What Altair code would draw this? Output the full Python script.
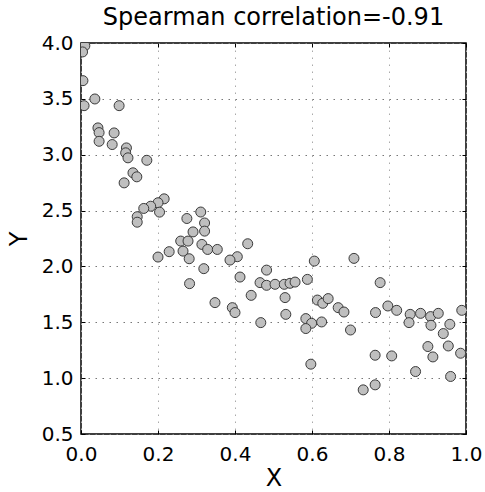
import altair as alt
import pandas as pd

x_vals = [0.010, 0.004, 0.005, 0.036, 0.008, 0.099, 0.044, 0.047, 0.047, 0.086,
          0.081, 0.118, 0.116, 0.122, 0.171, 0.135, 0.145, 0.112, 0.216, 0.200,
          0.181, 0.163, 0.204, 0.146, 0.146, 0.275, 0.311, 0.321, 0.291, 0.321,
          0.259, 0.278, 0.314, 0.329, 0.229, 0.265, 0.200, 0.281, 0.319, 0.282,
          0.354, 0.433, 0.406, 0.387, 0.482, 0.413, 0.606, 0.465, 0.482, 0.504,
          0.528, 0.543, 0.556, 0.588, 0.530, 0.442, 0.348, 0.393, 0.400, 0.532,
          0.467, 0.614, 0.628, 0.642, 0.668, 0.584, 0.599, 0.625, 0.584, 0.597,
          0.709, 0.777, 0.683, 0.700, 0.765, 0.797, 0.820, 0.855, 0.852, 0.882,
          0.908, 0.928, 0.909, 0.958, 0.941, 0.989, 0.901, 0.954, 0.914, 0.986,
          0.764, 0.807, 0.869, 0.960, 0.764, 0.733]
y_vals = [3.975, 3.920, 3.663, 3.499, 3.439, 3.439, 3.240, 3.198, 3.120, 3.195,
          3.091, 3.061, 3.017, 2.972, 2.950, 2.838, 2.802, 2.748, 2.605, 2.570,
          2.539, 2.519, 2.486, 2.445, 2.396, 2.429, 2.487, 2.389, 2.309, 2.316,
          2.227, 2.227, 2.197, 2.152, 2.132, 2.137, 2.084, 2.069, 1.980, 1.846,
          2.152, 2.203, 2.087, 2.057, 1.967, 1.905, 2.048, 1.855, 1.831, 1.840,
          1.840, 1.849, 1.860, 1.884, 1.721, 1.741, 1.676, 1.631, 1.587, 1.571,
          1.497, 1.699, 1.670, 1.712, 1.631, 1.533, 1.491, 1.503, 1.444, 1.125,
          2.072, 1.855, 1.592, 1.431, 1.587, 1.646, 1.607, 1.571, 1.497, 1.580,
          1.551, 1.580, 1.473, 1.482, 1.399, 1.607, 1.283, 1.288, 1.190, 1.223,
          1.205, 1.199, 1.059, 1.015, 0.940, 0.895]

x_ticks = [0.0, 0.2, 0.4, 0.6, 0.8, 1.0]
y_ticks = [0.5, 1.0, 1.5, 2.0, 2.5, 3.0, 3.5, 4.0]
title_text = "Spearman correlation=-0.91"

df = pd.DataFrame({"X": x_vals, "Y": y_vals})

FONT = "DejaVu Sans"
xscale = alt.Scale(domain=[0, 1], nice=False, zero=False)
yscale = alt.Scale(domain=[0.5, 4.0], nice=False, zero=False)

points = alt.Chart(df).mark_circle(
    size=100, color="#bfbfbf", opacity=1, stroke="#3a3a3a", strokeWidth=1, clip=True
).encode(
    x=alt.X("X:Q", scale=xscale,
            axis=alt.Axis(values=x_ticks, format=".1f", title="X",
                          offset=-4, tickSize=4, tickColor="black", tickWidth=1,
                          labelPadding=10, titlePadding=2, labelFlush=False,
                          gridDash=[1.5, 5.5], gridColor="#aaaaaa", gridWidth=1)),
    y=alt.Y("Y:Q", scale=yscale,
            axis=alt.Axis(values=y_ticks, format=".1f", title="Y",
                          offset=-4, tickSize=4, tickColor="black", tickWidth=1,
                          labelPadding=8, titlePadding=10, labelFlush=False,
                          gridDash=[1.5, 5.5], gridColor="#777777", gridWidth=1)),
)

# Mirror ticks on top and right edges (matplotlib classic style)
mirror = alt.Chart(df).mark_point(opacity=0).encode(
    x=alt.X("X:Q", scale=xscale,
            axis=alt.Axis(orient="top", values=x_ticks, labels=False, title=None,
                          offset=-4, tickSize=4, tickColor="black", tickWidth=1,
                          grid=False)),
    y=alt.Y("Y:Q", scale=yscale,
            axis=alt.Axis(orient="right", values=y_ticks, labels=False, title=None,
                          offset=-4, tickSize=4, tickColor="black", tickWidth=1,
                          grid=False)),
)

chart = alt.layer(points, mirror).resolve_scale(
    x="independent", y="independent"
).properties(
    width=385,
    height=391,
    autosize="none",
    background="white",
    padding={"left": 81, "top": 43, "right": 19, "bottom": 58},
    title=alt.TitleParams(title_text, font=FONT, fontSize=24, fontWeight="normal",
                          color="black", anchor="middle", offset=3),
).configure_axis(
    domain=False,
    labelFont=FONT, labelFontSize=20, labelColor="black",
    titleFont=FONT, titleFontSize=24, titleFontWeight="normal", titleColor="black",
).configure_view(
    stroke="black", strokeWidth=1.5
)

chart.save("out.html", embed_options={"renderer": "svg", "actions": False})
